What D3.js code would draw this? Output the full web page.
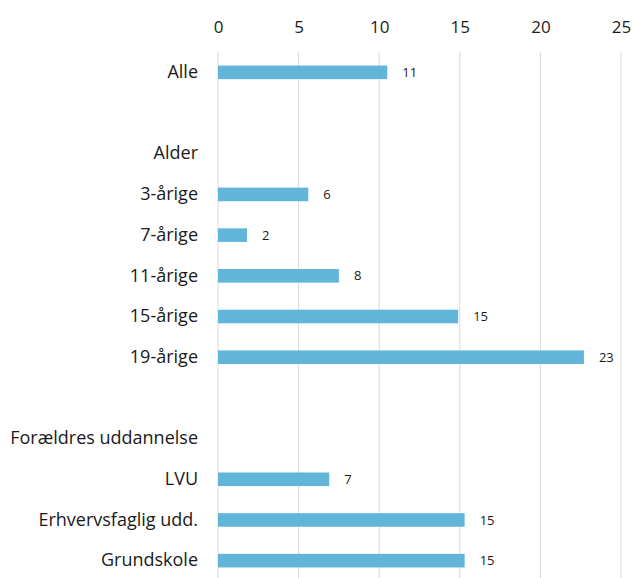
<!DOCTYPE html>
<html>
<head>
<meta charset="utf-8">
<script src="https://cdn.jsdelivr.net/npm/d3@7"></script>
<style>
  html, body { margin: 0; padding: 0; background: #fff; }
  svg { display: block; }
</style>
</head>
<body>
<svg id="chart" width="633" height="578"></svg>
<script>
const categories = ["Alle", "", "Alder", "3-årige", "7-årige", "11-årige", "15-årige", "19-årige", "", "Forældres uddannelse", "LVU", "Erhvervsfaglig udd.", "Grundskole"];
const values = [10.5, null, null, 5.6, 1.8, 7.5, 14.9, 22.7, null, null, 6.9, 15.3, 15.3];
const valueLabels = ["11", "", "", "6", "2", "8", "15", "23", "", "", "7", "15", "15"];
const xTicks = [0, 5, 10, 15, 20, 25];

const svg = d3.select("#chart");
const margin = { left: 218, right: 12, top: 52, bottom: -3 };
const W = 633, H = 578;

const keys = categories.map((c, i) => i);
const x = d3.scaleLinear().domain([0, 25]).range([margin.left, 621]);
const y = d3.scaleBand().domain(keys).range([margin.top, H - margin.bottom]).paddingInner(0.666).paddingOuter(0.333);

const font = "'Open Sans', sans-serif";

// gridlines
svg.append("g")
  .selectAll("line")
  .data(xTicks)
  .join("line")
  .attr("x1", d => x(d)).attr("x2", d => x(d))
  .attr("y1", margin.top).attr("y2", H - margin.bottom)
  .attr("stroke", "#d9d9d9").attr("stroke-width", 1);

// top axis
const xAxis = d3.axisTop(x).tickValues(xTicks).tickSize(0).tickPadding(0);
const ax = svg.append("g").attr("transform", "translate(0,33)").call(xAxis);
ax.select(".domain").remove();
ax.selectAll("text").attr("font-family", font).attr("font-size", 17).attr("fill", "#1a1a1a");

// category labels
const yAxis = d3.axisLeft(y).tickFormat(i => categories[i]).tickSize(0).tickPadding(20);
const ay = svg.append("g").attr("transform", `translate(${margin.left},0)`).call(yAxis);
ay.select(".domain").remove();
ay.selectAll("text").attr("font-family", font).attr("font-size", 18).attr("fill", "#1a1a1a");

// bars
const data = keys.filter(i => values[i] !== null);
svg.append("g")
  .selectAll("rect")
  .data(data)
  .join("rect")
  .attr("x", x(0))
  .attr("y", i => y(i))
  .attr("width", i => x(values[i]) - x(0))
  .attr("height", y.bandwidth())
  .attr("fill", "#61b5d9");

// value labels
svg.append("g")
  .selectAll("text")
  .data(data)
  .join("text")
  .attr("x", i => x(values[i]) + 15)
  .attr("y", i => y(i) + y.bandwidth() / 2)
  .attr("dy", "0.35em")
  .attr("font-family", font)
  .attr("font-size", 13)
  .attr("fill", "#1a1a1a")
  .text(i => valueLabels[i]);
</script>
</body>
</html>
